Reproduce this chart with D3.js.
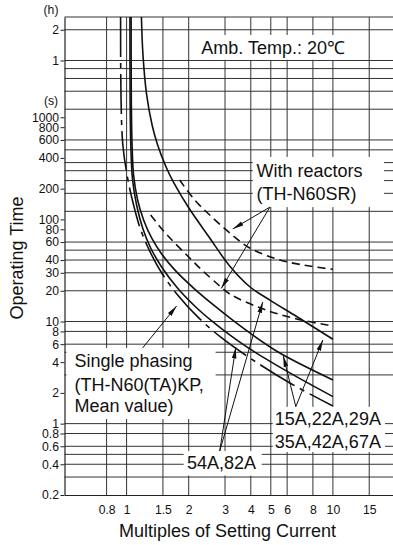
<!DOCTYPE html>
<html>
<head>
<meta charset="utf-8">
<script src="https://cdn.jsdelivr.net/npm/d3@7"></script>
<style>
  body { margin: 0; background: #fff; }
  svg { display: block; font-family: "Liberation Sans", Arial, Helvetica, sans-serif; }
</style>
</head>
<body>
<div id="chart"></div>
<script>
// ---- data (multiples of setting current, operating time in seconds) ----
var xTickValues = [0.8, 1, 1.5, 2, 3, 4, 5, 6, 8, 10, 15];
var xGridValues = [0.8, 1, 1.5, 2, 3, 4, 5, 6, 8, 10, 15];
var secTickValues = [1000, 800, 600, 400, 200, 100, 80, 60, 40, 30, 20, 10, 8, 6, 4, 2, 1, 0.8, 0.6, 0.4, 0.2];
var hourTickValues = [2, 1];
var yGridValues = [7200, 3600, 3000, 2400, 1800, 1200, 600, 480, 360, 300, 240, 180, 120,
                   60, 50, 40, 30, 20, 10, 8, 6, 5, 3, 1, 0.8, 0.6, 0.5, 0.4, 0.3];

// solid curves
var curveB = [[1.18, 9600], [1.2, 4130], [1.25, 1675], [1.33, 836], [1.414, 536], [1.55, 330],
              [1.7, 225], [2.0, 130], [2.5, 68], [3.16, 35], [3.955, 21.9], [4.95, 16.2],
              [6.67, 11.2], [10, 6.7]];
var curveC = [[1.052, 9600], [1.054, 1477], [1.063, 536], [1.081, 272], [1.131, 155],
              [1.209, 98.7], [1.322, 65.8], [1.479, 45.9], [1.729, 31.3], [2.138, 20.8],
              [2.674, 14.2], [3.162, 10.84], [3.955, 7.73], [5.529, 4.92], [10, 2.68]];
var curveD = [[1.038, 9600], [1.040, 1477], [1.048, 536], [1.069, 243], [1.118, 138.5],
              [1.196, 82.5], [1.308, 52.5], [1.479, 34.2], [1.748, 21.8], [2.138, 14.2],
              [2.586, 10.13], [3.162, 7.39], [3.955, 5.39], [6.183, 3.14], [10, 1.84]];
// with reactors (dashed)
var reactorUpper = [[1.808, 243], [2.138, 155], [2.529, 110.5], [3.162, 73.7], [3.955, 52.5],
                    [5.53, 40.1], [8.0, 34.5], [10, 32.5]];
var reactorLower = [[1.308, 110.5], [1.496, 78.8], [1.71, 58.8], [2.022, 41.9], [2.313, 32.0],
                    [2.828, 22.3], [3.162, 18.6], [4.57, 13.3], [6.68, 10.6], [10, 9.05]];
// single phasing, mean value (dash-dot)
var singlePhase = [[0.935, 9600], [0.94, 1477], [0.959, 536], [1.011, 255], [1.078, 141.6],
                   [1.162, 82.5], [1.30, 48.0], [1.49, 29.2], [1.768, 18.2], [2.211, 11.1],
                   [2.892, 6.9], [3.955, 4.4], [6.183, 2.5], [10, 1.49]];

// annotations: boxes [m0, m1, tTop, tBottom], text anchors [m, t], arrows [from, to]
var boxAmb = [2.16, 13.5, 6400, 3650];
var boxReactor = [4.09, 17.7, 409, 132];
var boxSingle = [0.511, 2.70, 5.51, 1.11];
var box15A = [5.11, 17.9, 1.46, 0.528];
var box54A = [1.89, 4.52, 0.54, 0.31];

var labels = [
  {text: "Amb. Temp.: 20\u2103", at: [2.3, 4140]},
  {text: "With reactors", at: [4.26, 258]},
  {text: "(TH-N60SR)", at: [4.26, 154]},
  {text: "Single phasing", at: [0.559, 3.55]},
  {text: "(TH-N60(TA)KP,", at: [0.559, 2.11]},
  {text: "Mean value)", at: [0.559, 1.30]},
  {text: "15A,22A,29A", at: [5.23, 0.96]},
  {text: "35A,42A,67A", at: [5.23, 0.572]},
  {text: "54A,82A", at: [1.962, 0.356]}
];

var arrows = [
  [[4.95, 132], [3.27, 80.6]],
  [[4.95, 132], [2.876, 21.1]],
  [[1.196, 5.51], [1.748, 14.2]],
  [[2.828, 0.54], [3.382, 5.57]],
  [[2.828, 0.54], [4.57, 15.55]],
  [[6.61, 1.467], [5.75, 4.6]],
  [[6.61, 1.467], [8.94, 6.6]]
];

// ---- chart ----
var W = 393, H = 545;
var svg = d3.select("#chart").append("svg")
    .attr("width", W)
    .attr("height", H);

var x = d3.scaleLog().domain([0.5, 20]).range([64.5, 395]);
var y = d3.scaleLog().domain([0.2, 9600]).range([495, 17]);

var gridColor = "#333";

// horizontal grid
svg.append("g").selectAll("line")
    .data(yGridValues.concat([9600]))
  .enter().append("line")
    .attr("x1", x(0.5)).attr("x2", x(20))
    .attr("y1", function(d) { return y(d); })
    .attr("y2", function(d) { return y(d); })
    .attr("stroke", gridColor)
    .attr("stroke-width", 1);

// vertical grid
svg.append("g").selectAll("line")
    .data(xGridValues)
  .enter().append("line")
    .attr("x1", function(d) { return x(d); })
    .attr("x2", function(d) { return x(d); })
    .attr("y1", y(0.2)).attr("y2", y(9600))
    .attr("stroke", gridColor)
    .attr("stroke-width", 1);

// left axis, seconds
svg.append("g")
    .attr("transform", "translate(" + x(0.5) + ",0)")
    .call(d3.axisLeft(y).tickValues(secTickValues).tickSize(4).tickSizeOuter(0)
      .tickPadding(1.5).tickFormat(function(d) { return String(d); }));
// left axis, hours
var hAxis = svg.append("g")
    .attr("transform", "translate(" + x(0.5) + ",0)")
    .call(d3.axisLeft(y).tickValues(hourTickValues.map(function(h) { return h * 3600; }))
      .tickSize(4).tickSizeOuter(0).tickPadding(1.5)
      .tickFormat(function(d) { return String(d / 3600); }));
hAxis.select(".domain").remove();

// bottom axis
svg.append("g")
    .attr("transform", "translate(0," + y(0.2) + ")")
    .call(d3.axisBottom(x).tickValues(xTickValues).tickSize(0).tickSizeOuter(0)
      .tickPadding(10.8).tickFormat(function(d) { return String(d); }));

svg.selectAll(".tick text")
    .attr("font-size", "12.2px")
    .attr("font-family", "Liberation Sans, Arial, sans-serif")
    .attr("fill", "#111");
svg.selectAll(".domain").attr("stroke", "#222").attr("stroke-width", 1.2);
svg.selectAll(".tick line").attr("stroke", "#222");

// unit labels
svg.append("text").attr("x", 51).attr("y", y(9600) - 3)
    .attr("text-anchor", "middle").attr("font-size", "12.2px").attr("fill", "#111").text("(h)");
svg.append("text").attr("x", 51).attr("y", y(1450) + 4)
    .attr("text-anchor", "middle").attr("font-size", "12.2px").attr("fill", "#111").text("(s)");

// curves
svg.append("clipPath").attr("id", "plotclip")
  .append("rect")
    .attr("x", x(0.5)).attr("y", y(9600))
    .attr("width", x(20) - x(0.5)).attr("height", y(0.2) - y(9600));

var line = d3.line()
    .x(function(d) { return x(d[0]); })
    .y(function(d) { return y(d[1]); })
    .curve(d3.curveCatmullRom.alpha(0.5));

var curves = [
  {pts: curveB, dash: null},
  {pts: curveC, dash: null},
  {pts: curveD, dash: null},
  {pts: reactorUpper, dash: "8,5"},
  {pts: reactorLower, dash: "8,5"},
  {pts: singlePhase, dash: "40,6,5,6"}
];

svg.append("g").attr("clip-path", "url(#plotclip)")
  .selectAll("path")
    .data(curves)
  .enter().append("path")
    .attr("d", function(d) { return line(d.pts); })
    .attr("fill", "none")
    .attr("stroke", "#111")
    .attr("stroke-width", 1.6)
    .attr("stroke-dasharray", function(d) { return d.dash; });

// label boxes
var boxes = [boxAmb, boxReactor, boxSingle, box15A, box54A];
svg.append("g").selectAll("rect")
    .data(boxes)
  .enter().append("rect")
    .attr("x", function(d) { return x(d[0]); })
    .attr("y", function(d) { return y(d[2]); })
    .attr("width", function(d) { return x(d[1]) - x(d[0]); })
    .attr("height", function(d) { return y(d[3]) - y(d[2]); })
    .attr("fill", "#fff");

svg.append("g").selectAll("text")
    .data(labels)
  .enter().append("text")
    .attr("x", function(d) { return x(d.at[0]); })
    .attr("y", function(d) { return y(d.at[1]); })
    .attr("font-size", "18px")
    .attr("fill", "#111")
    .text(function(d) { return d.text; });

// arrows
svg.append("defs").append("marker")
    .attr("id", "head")
    .attr("viewBox", "0 -3 11 6")
    .attr("refX", 11).attr("refY", 0)
    .attr("markerUnits", "userSpaceOnUse")
    .attr("markerWidth", 11).attr("markerHeight", 6)
    .attr("orient", "auto")
  .append("path")
    .attr("d", "M0,-2.3L11,0L0,2.3Z")
    .attr("fill", "#111");

svg.append("g").selectAll("line")
    .data(arrows)
  .enter().append("line")
    .attr("x1", function(d) { return x(d[0][0]); })
    .attr("y1", function(d) { return y(d[0][1]); })
    .attr("x2", function(d) { return x(d[1][0]); })
    .attr("y2", function(d) { return y(d[1][1]); })
    .attr("stroke", "#111")
    .attr("stroke-width", 1)
    .attr("marker-end", "url(#head)");

// axis titles
svg.append("text")
    .attr("transform", "translate(23,258) rotate(-90)")
    .attr("text-anchor", "middle")
    .attr("font-size", "18px")
    .attr("fill", "#111")
    .text("Operating Time");

svg.append("text")
    .attr("x", 227.5).attr("y", 537)
    .attr("text-anchor", "middle")
    .attr("font-size", "18px")
    .attr("fill", "#111")
    .text("Multiples of Setting Current");
</script>
</body>
</html>
